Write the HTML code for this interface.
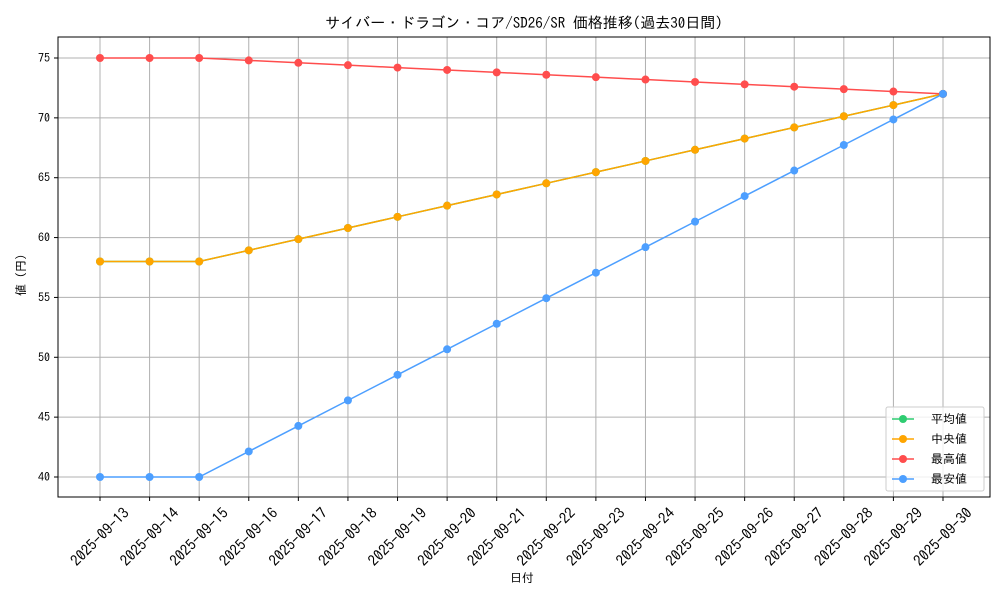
<!DOCTYPE html><html><head><meta charset="utf-8"><style>body{margin:0;background:#fff}svg{font-family:"IPAGothic","Noto Sans CJK JP",sans-serif}</style></head><body>
<svg width="1000" height="600" xmlns="http://www.w3.org/2000/svg">
<rect width="1000" height="600" fill="#fff"/>
<text x="524" y="28" font-size="15" text-anchor="middle">サイバー・ドラゴン・コア/SD26/SR 価格推移(過去30日間)</text>
<g id="grid" stroke="#b0b0b0" stroke-width="1"></g>
<rect x="58" y="37" width="932" height="460" fill="none" stroke="#000" stroke-width="1"/>
<g id="ticks" font-size="12"></g>
<text x="522" y="582" font-size="12" text-anchor="middle">日付</text>
<text transform="translate(25,272) rotate(-90)" font-size="12" text-anchor="middle">値（円）</text>
<g id="series"></g>
<g font-size="12">
<rect x="886" y="407" width="98" height="84" fill="#fff" fill-opacity="0.8" stroke="#ccc" rx="2"/>
<line x1="892" y1="419" x2="914" y2="419" stroke="#2ecc71" stroke-width="1.5"/><circle cx="903" cy="419" r="4" fill="#2ecc71"/><text x="931" y="423">平均値</text>
<line x1="892" y1="439" x2="914" y2="439" stroke="#ffa500" stroke-width="1.5"/><circle cx="903" cy="439" r="4" fill="#ffa500"/><text x="931" y="443">中央値</text>
<line x1="892" y1="459" x2="914" y2="459" stroke="#ff4d4d" stroke-width="1.5"/><circle cx="903" cy="459" r="4" fill="#ff4d4d"/><text x="931" y="463">最高値</text>
<line x1="892" y1="479" x2="914" y2="479" stroke="#4d9fff" stroke-width="1.5"/><circle cx="903" cy="479" r="4" fill="#4d9fff"/><text x="931" y="483">最安値</text>
</g>
</svg>
<script>
const ns="http://www.w3.org/2000/svg";
const X=i=>100+i*(843/17), Y=v=>58+(75-v)*(419/35);
const g=document.getElementById('grid'),t=document.getElementById('ticks'),s=document.getElementById('series');
function el(p,n,a,txt){const e=document.createElementNS(ns,n);for(const k in a)e.setAttribute(k,a[k]);if(txt)e.textContent=txt;p.appendChild(e);return e;}
for(let i=0;i<18;i++){const x=X(i);el(g,'line',{x1:x,x2:x,y1:37,y2:497});el(t,'line',{x1:x,x2:x,y1:497,y2:501,stroke:'#000'});
const d='2025-09-'+(13+i);el(t,'text',{x:0,y:5,'text-anchor':'middle','font-size':15,transform:`translate(${x},${537}) rotate(-45)`},d);}
for(let v=40;v<=75;v+=5){const y=Y(v);el(g,'line',{x1:58,x2:990,y1:y,y2:y});el(t,'line',{x1:54,x2:58,y1:y,y2:y,stroke:'#000'});el(t,'text',{x:50,y:y+4,'text-anchor':'end'},String(v));}
const mx=[],md=[],mn=[];
for(let i=0;i<18;i++){mx.push(i<3?75:75-0.2*(i-2));md.push(i<3?58:58+(14/15)*(i-2));mn.push(i<3?40:40+(32/15)*(i-2));}
function draw(d,c){el(s,'polyline',{points:d.map((v,i)=>X(i)+','+Y(v)).join(' '),fill:'none',stroke:c,'stroke-width':1.5});d.forEach((v,i)=>el(s,'circle',{cx:X(i),cy:Y(v),r:4,fill:c}));}
draw(md,'#2ecc71');draw(md,'#ffa500');draw(mx,'#ff4d4d');draw(mn,'#4d9fff');
</script>
</body></html>
